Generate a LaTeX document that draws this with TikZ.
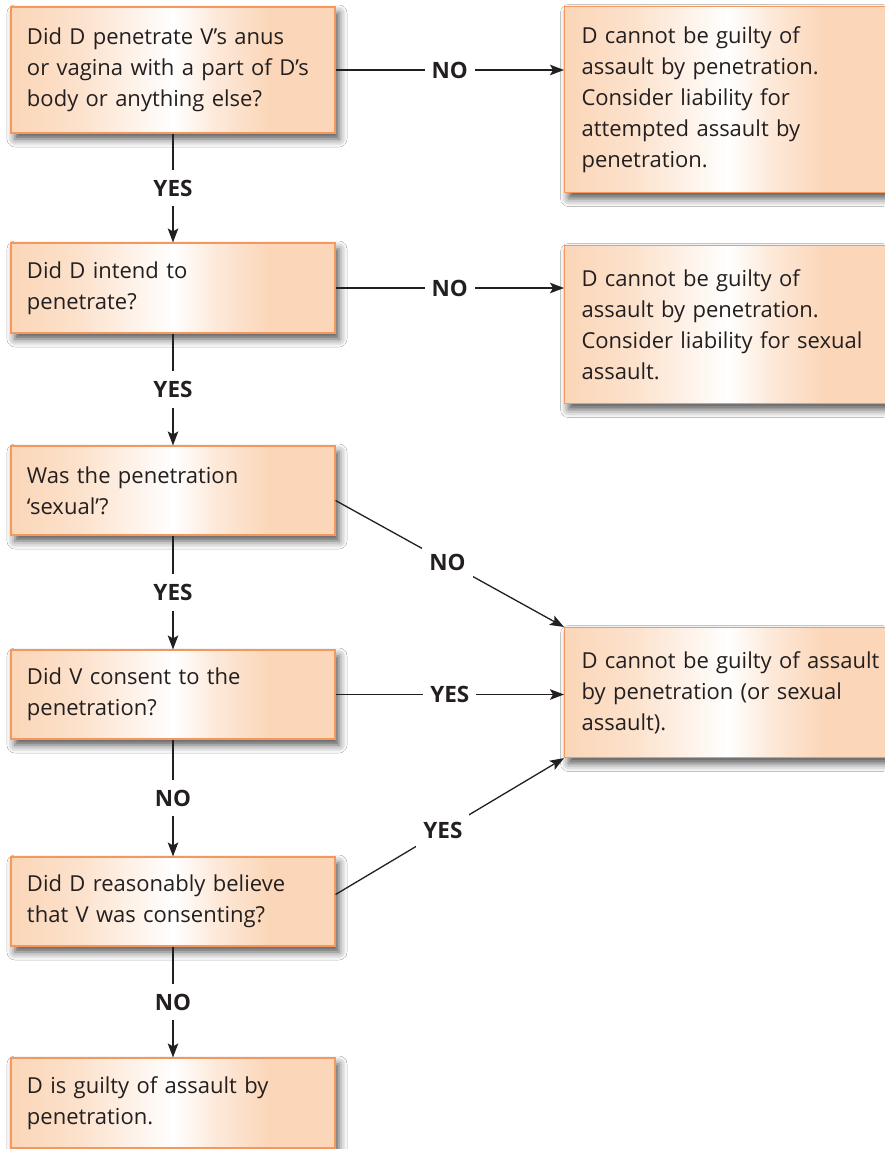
\documentclass[tikz,border=0pt]{standalone}
\usepackage{fontspec}
\setmainfont{Open Sans}
\usetikzlibrary{arrows.meta,shadows.blur,calc}

\definecolor{boxfill}{RGB}{251,214,184}
\definecolor{boxline}{RGB}{245,152,94}
\definecolor{ink}{RGB}{35,31,32}
\colorlet{boxfillA}{boxfill!70!white}
\colorlet{boxfillB}{boxfill!50!white}

% one horizontal band of the box gradient, between fractions #1 and #2 of the width
\newcommand\gradband[4]{%
  \shade[left color=#3, right color=#4]
    ($(path picture bounding box.south west)!#1!(path picture bounding box.south east)$)
    rectangle
    ($(path picture bounding box.north west)!#2!(path picture bounding box.north east)$);}

\tikzset{
  box/.style={rectangle, draw=boxline, line width=1.1pt,
    path picture={
      \fill[boxfill] (path picture bounding box.south west) rectangle (path picture bounding box.north east);
      \gradband{0}{0.225}{boxfill}{boxfillA}
      \gradband{0.22}{0.505}{boxfillA}{white}
      \gradband{0.5}{0.625}{white}{boxfillB}
      \gradband{0.62}{0.8}{boxfillB}{boxfill}
    },
    align=left, text=ink, font=\fontsize{22}{31}\selectfont,
    inner xsep=16pt, inner ysep=0pt, text width=292pt, minimum width=324pt,
    blur shadow={shadow xshift=4pt, shadow yshift=-6pt, shadow blur radius=8pt, shadow opacity=68}},
  outcome/.style={box, inner xsep=17pt, text width=292pt, minimum width=326pt},
  conn/.style={draw=ink, line width=1.3pt, -{Stealth[length=14pt,width=10.5pt,inset=3pt]}},
  lbl/.style={fill=white, text=ink, font=\bfseries\fontsize{22.5}{26}\selectfont,
    inner xsep=7pt, inner ysep=10pt}
}

\begin{document}
\begin{tikzpicture}[x=1pt,y=-1pt]
  \fill[white] (0,0) rectangle (884,1149);
  \useasboundingbox (0,0) rectangle (884,1149);

  % question column
  \node[box, minimum height=126pt] (b1) at (173,70)
    {Did D penetrate V’s anus\\or vagina with a part of D’s\\body or anything else?};
  \node[box, minimum height=90pt] (b2) at (173,288)
    {Did D intend to\\penetrate?};
  \node[box, minimum height=89pt] (b3) at (173,490.5)
    {Was the penetration\\‘sexual’?};
  \node[box, minimum height=89pt] (b4) at (173,694.5)
    {Did V consent to the\\penetration?};
  \node[box, minimum height=89pt] (b5) at (173,901.5)
    {Did D reasonably believe\\that V was consenting?};
  \node[box, minimum height=90pt] (b6) at (173,1103)
    {D is guilty of assault by\\penetration.};

  % outcome column
  \node[outcome, minimum height=186pt, anchor=north west] (r1) at (564,6)
    {D cannot be guilty of\\assault by penetration.\\Consider liability for\\attempted assault by\\penetration.};
  \node[outcome, minimum height=158pt, anchor=north west] (r2) at (564,245)
    {D cannot be guilty of\\assault by penetration.\\\mbox{Consider liability for sexual}\\assault.};
  \node[outcome, minimum height=130pt, anchor=north west] (r3) at (564,627)
    {\mbox{D cannot be guilty of assault}\\\mbox{by penetration (or sexual}\\assault).};

  % downward chain
  \draw[conn] (b1) -- node[lbl]{YES} (b2);
  \draw[conn] (b2) -- node[lbl]{YES} (b3);
  \draw[conn] (b3) -- node[lbl]{YES} (b4);
  \draw[conn] (b4) -- node[lbl]{NO} (b5);
  \draw[conn] (b5) -- node[lbl]{NO} (b6);

  % branches to the outcomes
  \draw[conn] (b1.east) -- node[lbl]{NO} (b1.east -| r1.west);
  \draw[conn] (b2.east) -- node[lbl]{NO} (b2.east -| r2.west);
  \draw[conn] ([yshift=-10pt]b3.east) -- node[lbl, pos=0.49]{NO} (r3.north west);
  \draw[conn] (b4.east) -- node[lbl]{YES} (b4.east -| r3.west);
  \draw[conn] ([yshift=7pt]b5.east) -- node[lbl, pos=0.47]{YES} (r3.south west);
\end{tikzpicture}
\end{document}
